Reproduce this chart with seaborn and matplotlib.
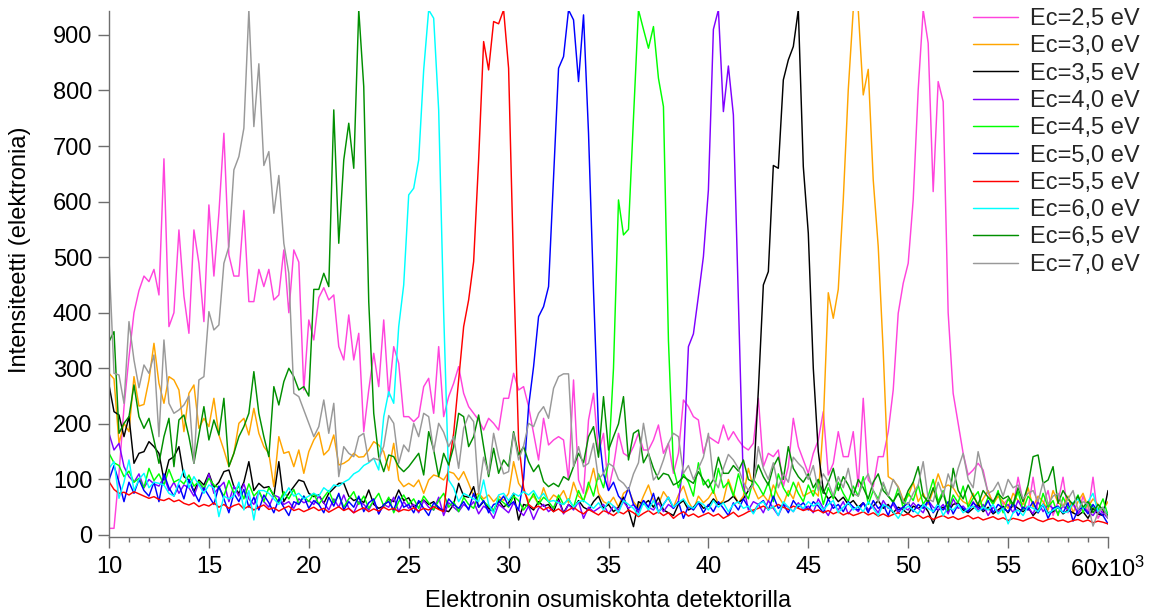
import numpy as np
import pandas as pd
import matplotlib
matplotlib.use("Agg")
import matplotlib.pyplot as plt
from matplotlib.ticker import MultipleLocator, FixedLocator, FixedFormatter
import seaborn as sns

# Detector position grid: first channel and channel spacing
X_START = 10000
X_STEP = 250

LABELS = ["Ec=2,5 eV", "Ec=3,0 eV", "Ec=3,5 eV", "Ec=4,0 eV", "Ec=4,5 eV",
          "Ec=5,0 eV", "Ec=5,5 eV", "Ec=6,0 eV", "Ec=6,5 eV", "Ec=7,0 eV"]
COLORS = ["#FF44DD", "#FFA500", "#000000", "#8000FF", "#00FF00",
          "#0000FF", "#FF0000", "#00FFFF", "#008F00", "#999999"]

X_TICKS = [10000, 15000, 20000, 25000, 30000, 35000, 40000, 45000, 50000, 55000, 60000]
X_TICK_LABELS = ["10", "15", "20", "25", "30", "35", "40", "45", "50", "55",
                 r"60x10$^{\mathregular{3}}$"]
Y_TICKS = [0, 100, 200, 300, 400, 500, 600, 700, 800, 900]

ec_2_5 = [
    12, 12, 110, 230, 320, 400, 440, 466, 456, 478, 432, 677, 375, 400, 549, 430, 363, 549, 489, 384,
    594, 466, 579, 723, 504, 466, 466, 584, 420, 420, 478, 447, 478, 423, 432, 513, 400, 513, 491, 261,
    387, 351, 427, 445, 423, 432, 339, 315, 396, 315, 363, 186, 261, 327, 267, 387, 249, 339, 309, 213,
    213, 204, 213, 267, 282, 219, 339, 213, 249, 273, 303, 255, 231, 219, 207, 189, 210, 201, 189, 246,
    246, 291, 261, 267, 231, 183, 135, 210, 162, 171, 177, 171, 99, 279, 99, 75, 207, 255, 147, 183,
    81, 123, 183, 147, 141, 159, 183, 153, 153, 171, 198, 147, 165, 111, 147, 243, 231, 213, 207, 147,
    177, 171, 165, 198, 171, 186, 171, 159, 153, 165, 246, 123, 147, 141, 153, 87, 123, 210, 159, 135,
    111, 147, 171, 222, 108, 129, 186, 141, 141, 186, 87, 246, 99, 87, 141, 141, 186, 261, 399, 453,
    489, 603, 801, 945, 885, 618, 816, 780, 400, 255, 201, 147, 108, 117, 129, 117, 75, 60, 70, 55,
    65, 50, 104, 60, 45, 104, 40, 55, 80, 35, 60, 104, 40, 55, 38, 70, 40, 104, 30, 45, 40,
]
ec_3_0 = [
    291, 281, 165, 201, 186, 285, 232, 235, 279, 345, 273, 237, 285, 279, 261, 186, 255, 270, 192, 210,
    195, 246, 180, 153, 123, 147, 201, 210, 180, 228, 183, 159, 147, 87, 177, 147, 150, 123, 153, 111,
    150, 171, 185, 144, 153, 180, 126, 129, 135, 147, 140, 141, 153, 168, 162, 150, 116, 165, 99, 87,
    93, 87, 99, 75, 99, 108, 105, 99, 114, 111, 99, 114, 93, 70, 75, 65, 72, 60, 70, 62,
    75, 132, 93, 80, 62, 70, 55, 85, 60, 72, 66, 80, 58, 95, 70, 62, 85, 120, 75, 60,
    55, 68, 50, 75, 82, 60, 48, 70, 90, 62, 55, 78, 65, 50, 72, 88, 60, 45, 70, 58,
    66, 80, 55, 62, 100, 75, 58, 70, 120, 85, 65, 72, 60, 90, 70, 55, 80, 65, 95, 70,
    75, 80, 70, 200, 436, 390, 442, 603, 801, 945, 945, 792, 838, 639, 519, 330, 105, 99, 87, 63,
    70, 95, 60, 75, 55, 80, 110, 85, 90, 85, 70, 60, 55, 75, 50, 65, 80, 55, 70, 60,
    48, 75, 62, 55, 85, 50, 70, 60, 45, 80, 58, 52, 70, 40, 60, 75, 50, 65, 55, 45, 60,
]
ec_3_5 = [
    270, 222, 216, 177, 213, 129, 147, 150, 168, 159, 147, 99, 135, 141, 159, 105, 99, 78, 99, 90,
    111, 85, 95, 114, 117, 87, 75, 95, 132, 80, 93, 85, 87, 70, 132, 60, 75, 87, 99, 96,
    75, 69, 72, 57, 75, 84, 93, 93, 70, 62, 66, 58, 81, 55, 48, 52, 65, 60, 81, 62,
    67, 50, 58, 63, 55, 60, 48, 45, 42, 55, 93, 70, 68, 87, 50, 60, 48, 42, 62, 50,
    58, 75, 27, 55, 52, 45, 60, 52, 55, 42, 65, 40, 55, 48, 62, 50, 45, 60, 70, 48,
    55, 42, 50, 68, 45, 15, 60, 55, 62, 50, 68, 45, 40, 35, 55, 62, 45, 50, 60, 48,
    52, 65, 55, 58, 62, 70, 58, 65, 80, 95, 260, 450, 474, 665, 660, 819, 855, 879, 945, 663,
    543, 300, 150, 80, 65, 72, 60, 68, 55, 62, 50, 58, 45, 52, 62, 48, 55, 40, 50, 45,
    38, 52, 48, 55, 42, 21, 45, 50, 42, 55, 58, 45, 40, 48, 55, 42, 50, 38, 45, 52,
    40, 55, 48, 42, 50, 35, 45, 55, 40, 42, 50, 38, 45, 40, 35, 42, 30, 48, 38, 35, 80,
]
ec_4_0 = [
    183, 153, 165, 123, 105, 95, 110, 85, 100, 92, 88, 105, 80, 95, 75, 90, 85, 70, 95, 80,
    110, 75, 85, 95, 60, 88, 70, 92, 65, 55, 78, 60, 50, 72, 68, 55, 60, 48, 65, 58,
    62, 55, 70, 58, 45, 65, 50, 72, 48, 40, 60, 55, 45, 62, 38, 55, 50, 68, 42, 60,
    48, 55, 40, 62, 50, 45, 68, 35, 58, 50, 42, 55, 48, 60, 38, 52, 45, 30, 55, 48,
    40, 58, 45, 35, 52, 28, 48, 55, 42, 50, 62, 38, 55, 45, 60, 30, 50, 42, 48, 55,
    38, 52, 45, 60, 48, 55, 40, 62, 50, 45, 58, 42, 55, 48, 60, 130, 339, 362, 430, 501,
    621, 910, 945, 762, 844, 756, 420, 90, 45, 60, 55, 40, 62, 48, 35, 55, 50, 42, 58, 45,
    52, 40, 65, 48, 35, 55, 45, 60, 38, 50, 42, 58, 45, 52, 40, 62, 48, 55, 40, 50,
    45, 58, 48, 40, 62, 50, 45, 55, 38, 65, 48, 52, 42, 60, 45, 55, 35, 50, 42, 48,
    55, 40, 62, 45, 50, 38, 60, 42, 55, 48, 40, 52, 45, 58, 38, 50, 42, 35, 48, 40, 30,
]
ec_4_5 = [
    147, 130, 125, 105, 115, 95, 102, 85, 120, 98, 110, 90, 118, 95, 100, 92, 108, 88, 96, 84,
    102, 90, 85, 70, 98, 75, 88, 65, 92, 70, 80, 60, 85, 72, 58, 78, 65, 82, 55, 70,
    60, 75, 55, 68, 80, 58, 72, 50, 65, 78, 55, 70, 48, 62, 75, 52, 68, 40, 60, 72,
    55, 65, 48, 70, 58, 45, 62, 75, 50, 60, 42, 68, 55, 48, 72, 60, 52, 45, 65, 58,
    50, 70, 62, 45, 58, 75, 55, 68, 60, 48, 72, 55, 65, 50, 80, 60, 95, 70, 110, 85,
    130, 300, 603, 540, 550, 750, 945, 910, 876, 915, 822, 771, 350, 120, 85, 110, 95, 70, 130, 90,
    100, 75, 120, 85, 95, 70, 110, 80, 65, 100, 88, 72, 95, 60, 110, 85, 70, 95, 75, 60,
    90, 70, 100, 55, 85, 65, 95, 75, 60, 88, 70, 105, 55, 80, 65, 92, 70, 58, 85, 48,
    75, 62, 90, 55, 70, 100, 60, 80, 45, 72, 58, 88, 50, 66, 78, 45, 68, 55, 80, 40,
    65, 52, 78, 45, 70, 58, 40, 75, 50, 62, 35, 68, 48, 55, 72, 40, 60, 50, 45, 65, 35,
]
ec_5_0 = [
    99, 125, 95, 60, 95, 75, 100, 80, 70, 95, 60, 110, 85, 70, 90, 65, 100, 78, 60, 85,
    70, 55, 88, 65, 40, 75, 60, 82, 50, 68, 45, 72, 58, 40, 65, 50, 35, 60, 55, 70,
    48, 62, 55, 40, 68, 52, 75, 45, 60, 50, 70, 42, 58, 65, 38, 55, 60, 45, 70, 50,
    55, 40, 62, 48, 35, 58, 50, 42, 65, 55, 48, 60, 45, 75, 50, 62, 40, 55, 58, 70,
    52, 60, 45, 100, 231, 303, 393, 411, 447, 645, 840, 861, 945, 927, 816, 936, 723, 440, 189, 110,
    80, 95, 70, 60, 85, 55, 45, 62, 50, 75, 40, 55, 68, 48, 60, 30, 52, 45, 58, 40,
    55, 42, 60, 48, 35, 58, 45, 65, 50, 40, 55, 62, 45, 70, 48, 55, 40, 62, 50, 58,
    45, 60, 52, 40, 65, 48, 55, 42, 60, 50, 45, 58, 40, 62, 48, 55, 35, 60, 45, 50,
    58, 42, 55, 48, 62, 40, 52, 45, 60, 38, 55, 48, 42, 58, 50, 45, 62, 40, 55, 48,
    42, 58, 35, 50, 45, 60, 40, 55, 30, 48, 52, 40, 58, 25, 45, 50, 38, 55, 42, 35, 20,
]
ec_5_5 = [
    96, 82, 75, 77, 72, 78, 74, 70, 66, 69, 64, 62, 66, 60, 63, 57, 54, 58, 51, 55,
    52, 58, 50, 55, 48, 53, 56, 47, 52, 45, 50, 54, 46, 49, 43, 48, 52, 44, 47, 42,
    46, 50, 44, 48, 41, 46, 51, 44, 48, 40, 45, 49, 42, 47, 43, 50, 45, 48, 42, 46,
    44, 49, 43, 48, 45, 51, 46, 42, 123, 183, 279, 375, 423, 492, 675, 888, 837, 924, 920, 945,
    840, 480, 170, 85, 55, 48, 52, 45, 50, 42, 47, 40, 45, 50, 43, 38, 46, 41, 36, 44,
    40, 35, 42, 38, 45, 40, 33, 39, 44, 37, 42, 35, 40, 30, 37, 42, 34, 38, 32, 36,
    40, 34, 38, 30, 35, 41, 33, 37, 42, 45, 48, 52, 47, 50, 55, 50, 46, 52, 48, 44,
    47, 42, 45, 40, 44, 38, 42, 36, 40, 35, 38, 42, 36, 40, 34, 38, 33, 37, 40, 35,
    38, 32, 36, 30, 34, 28, 32, 35, 30, 33, 28, 31, 35, 29, 32, 27, 30, 33, 28, 31,
    26, 30, 28, 25, 29, 32, 27, 24, 28, 30, 25, 27, 23, 26, 28, 24, 27, 22, 25, 23, 20,
]
ec_6_0 = [
    120, 132, 66, 95, 135, 80, 100, 111, 85, 95, 93, 90, 75, 70, 95, 117, 85, 105, 90, 75,
    90, 85, 33, 70, 65, 70, 95, 45, 80, 27, 80, 80, 75, 65, 55, 70, 85, 70, 75, 65,
    70, 75, 70, 85, 78, 90, 88, 95, 100, 110, 115, 125, 130, 138, 117, 213, 258, 237, 375, 450,
    612, 624, 675, 837, 945, 930, 765, 400, 99, 85, 60, 75, 70, 65, 60, 99, 55, 39, 72, 75,
    62, 75, 70, 78, 72, 80, 65, 75, 60, 62, 58, 55, 65, 50, 60, 62, 55, 48, 58, 45,
    60, 52, 40, 62, 55, 48, 35, 58, 45, 62, 40, 55, 68, 50, 58, 65, 52, 48, 60, 55,
    45, 62, 50, 58, 42, 55, 60, 48, 52, 38, 55, 60, 45, 52, 35, 60, 50, 42, 55, 48,
    60, 52, 58, 45, 55, 62, 40, 50, 58, 45, 52, 42, 60, 48, 35, 55, 50, 42, 30, 45,
    52, 45, 38, 55, 48, 42, 58, 35, 50, 45, 55, 40, 48, 52, 42, 50, 45, 55, 38, 48,
    20, 40, 45, 35, 52, 48, 42, 55, 38, 45, 50, 40, 42, 58, 65, 48, 60, 75, 42, 50, 35,
]
ec_6_5 = [
    348, 366, 183, 201, 213, 270, 213, 192, 210, 171, 129, 177, 210, 123, 207, 216, 177, 129, 180, 231,
    171, 207, 180, 246, 123, 147, 177, 195, 219, 294, 219, 177, 141, 267, 234, 276, 300, 285, 261, 267,
    250, 442, 442, 471, 447, 765, 525, 675, 741, 660, 945, 807, 420, 219, 141, 114, 144, 141, 123, 114,
    123, 135, 147, 108, 186, 153, 105, 147, 126, 159, 219, 213, 159, 177, 216, 159, 105, 156, 111, 135,
    123, 186, 144, 159, 132, 114, 126, 96, 87, 93, 87, 105, 99, 123, 147, 130, 177, 195, 140, 249,
    153, 177, 200, 249, 135, 183, 189, 130, 147, 120, 100, 111, 108, 90, 95, 105, 99, 93, 114, 99,
    85, 100, 140, 111, 111, 125, 115, 135, 100, 95, 126, 105, 90, 123, 140, 100, 159, 120, 105, 95,
    110, 85, 100, 75, 95, 120, 80, 105, 90, 70, 100, 85, 65, 95, 110, 80, 70, 60, 75, 57,
    80, 95, 123, 70, 60, 85, 55, 75, 45, 120, 80, 65, 90, 70, 55, 80, 68, 60, 75, 65,
    70, 55, 85, 60, 90, 141, 144, 93, 99, 123, 57, 80, 65, 55, 70, 50, 60, 40, 55, 45, 35,
]
ec_7_0 = [
    498, 291, 288, 237, 384, 315, 265, 306, 291, 324, 177, 351, 237, 219, 225, 234, 250, 129, 279, 285,
    402, 369, 378, 489, 519, 657, 681, 732, 945, 735, 848, 665, 690, 579, 647, 525, 471, 255, 249, 225,
    201, 177, 195, 243, 183, 237, 105, 159, 147, 141, 177, 183, 132, 138, 135, 160, 215, 201, 129, 162,
    150, 201, 177, 219, 213, 150, 201, 185, 159, 177, 120, 192, 216, 204, 75, 140, 110, 183, 141, 110,
    114, 183, 135, 160, 201, 195, 219, 231, 210, 264, 285, 290, 290, 123, 159, 123, 129, 165, 100, 111,
    129, 123, 100, 93, 81, 110, 130, 201, 147, 99, 110, 135, 165, 183, 177, 111, 125, 100, 120, 140,
    183, 100, 85, 120, 145, 135, 120, 95, 80, 90, 159, 120, 100, 130, 85, 110, 95, 140, 129, 120,
    100, 125, 80, 110, 95, 70, 105, 85, 120, 75, 70, 95, 110, 80, 60, 95, 70, 100, 85, 60,
    55, 75, 90, 132, 65, 60, 95, 70, 110, 85, 120, 147, 100, 85, 150, 110, 75, 80, 95, 70,
    100, 85, 90, 65, 75, 80, 60, 95, 55, 70, 75, 50, 65, 80, 45, 60, 55, 16, 40, 50, 30,
]

SERIES = [ec_2_5, ec_3_0, ec_3_5, ec_4_0, ec_4_5, ec_5_0, ec_5_5, ec_6_0, ec_6_5, ec_7_0]

# Long-format table for seaborn
frames = []
for label, values in zip(LABELS, SERIES):
    pos = X_START + X_STEP * np.arange(len(values))
    frames.append(pd.DataFrame({"pos": pos, "counts": values, "Ec": label}))
data = pd.concat(frames, ignore_index=True)

sns.set_theme(style="ticks")
plt.rcParams["font.family"] = ["Liberation Sans", "DejaVu Sans"]
plt.rcParams["mathtext.fontset"] = "custom"
plt.rcParams["mathtext.rm"] = "Liberation Sans"
plt.rcParams["mathtext.it"] = "Liberation Sans:italic"
plt.rcParams["mathtext.bf"] = "Liberation Sans:bold"

FS = 17
AXIS_GRAY = "#6E6E6E"

fig = plt.figure(figsize=(11.55, 6.11), dpi=100)
ax = fig.add_axes([109 / 1155, 1 - 537 / 611, 999 / 1155, 526 / 611])

sns.lineplot(data=data, x="pos", y="counts", hue="Ec", hue_order=LABELS,
             palette=dict(zip(LABELS, COLORS)), estimator=None, sort=False,
             linewidth=1.05, legend=False, ax=ax)

ax.set_xlim(10000, 60000)
ax.set_ylim(-3.6, 943)

ax.xaxis.set_major_locator(FixedLocator(X_TICKS))
ax.xaxis.set_major_formatter(FixedFormatter(X_TICK_LABELS))
ax.xaxis.set_minor_locator(MultipleLocator(1000))
ax.yaxis.set_major_locator(FixedLocator(Y_TICKS))

for side in ("top", "right"):
    ax.spines[side].set_visible(False)
for side in ("left", "bottom"):
    ax.spines[side].set_color(AXIS_GRAY)
    ax.spines[side].set_linewidth(1.0)

ax.tick_params(axis="both", which="major", direction="out", length=8, width=1.0,
               color=AXIS_GRAY, labelsize=FS, labelcolor="black")
ax.tick_params(axis="x", which="minor", direction="out", length=3.6, width=1.0,
               color=AXIS_GRAY)
ax.tick_params(axis="x", which="major", pad=6)
ax.tick_params(axis="y", which="major", pad=4)

ax.set_xlabel("Elektronin osumiskohta detektorilla", fontsize=FS, color="black")
ax.set_ylabel("Intensiteetti (elektronia)", fontsize=FS, color="black")
ax.xaxis.set_label_coords(0.5, (537 - 601) / 526)
ax.xaxis.label.set_verticalalignment("center")
ax.yaxis.set_label_coords((20 - 109) / 999, (537 - 250) / 526)
ax.yaxis.label.set_verticalalignment("center")

handles = ax.get_lines()[:len(LABELS)]
ax.legend(handles, LABELS, loc="upper left",
          bbox_to_anchor=(973 / 1155, 1 - 8 / 611), bbox_transform=fig.transFigure,
          frameon=False, fontsize=FS, handlelength=1.9, handletextpad=0.5,
          labelspacing=0.225, borderpad=0, borderaxespad=0)

fig.savefig("out.png", dpi=100)
